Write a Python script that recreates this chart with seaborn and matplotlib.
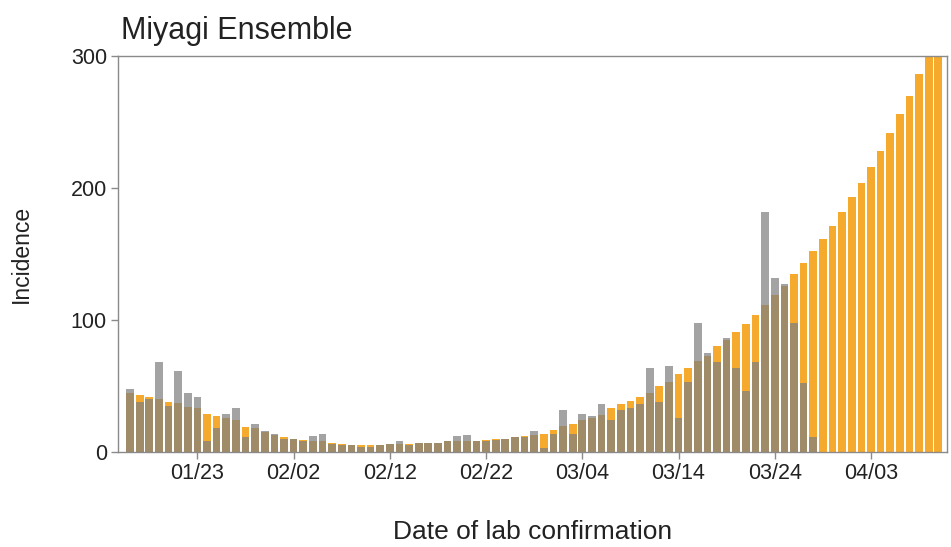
import numpy as np
import pandas as pd
import matplotlib
matplotlib.use("Agg")
import matplotlib.pyplot as plt
import seaborn as sns

# ---- data ----
dates = pd.date_range("2021-01-16", "2021-04-10").strftime("%m/%d").tolist()

ensemble = [45, 43, 42, 40, 38, 37, 34, 33, 29, 27,
            26, 24, 19, 18, 15, 13, 11, 10, 9, 8,
            8, 7, 6, 5, 5, 5, 5, 6, 6, 6,
            7, 7, 7, 8, 8, 8, 8, 9, 10, 10,
            11, 12, 13, 14, 17, 20, 21, 24, 26, 28,
            33, 36, 39, 42, 45, 50, 53, 59, 64, 69,
            73, 80, 85, 91, 97, 104, 111, 119, 126, 135,
            143, 152, 161, 171, 182, 193, 204, 216, 228, 242,
            256, 270, 286, 302, 318]

observed = [48, 38, 40, 68, 35, 61, 45, 42, 8, 18,
            29, 33, 11, 21, 16, 14, 10, 10, 8, 12,
            14, 6, 5, 5, 4, 4, 5, 6, 8, 5,
            7, 7, 7, 8, 12, 13, 8, 8, 9, 10,
            11, 11, 16, 3, 14, 32, 14, 29, 27, 36,
            24, 32, 33, 36, 64, 38, 65, 26, 53, 98,
            75, 68, 86, 64, 46, 68, 182, 132, 127, 98,
            52, 11]

tick_labels = ["01/23", "02/02", "02/12", "02/22", "03/04", "03/14", "03/24", "04/03"]
y_ticks = [0, 100, 200, 300]

# ---- build frames ----
df_ens = pd.DataFrame({"date": dates, "value": ensemble})
df_obs = pd.DataFrame({"date": dates[:len(observed)], "value": observed})

sns.set_style("white")
plt.rcParams["font.family"] = ["Liberation Sans", "DejaVu Sans"]

fig = plt.figure(figsize=(9.51, 5.47), dpi=100)
ax = fig.add_axes([118 / 951, 1 - 452 / 547, (947 - 118) / 951, (452 - 56) / 547])

sns.barplot(data=df_ens, x="date", y="value", order=dates, color="#F5AA2E",
            saturation=1, width=0.8, linewidth=0, ax=ax, errorbar=None)
sns.barplot(data=df_obs, x="date", y="value", order=dates, color="#808080",
            saturation=1, width=0.8, linewidth=0, alpha=0.72, ax=ax, errorbar=None)

ax.set_xlim(-1.25, 84.9)
ax.set_ylim(0, 300)
ax.set_yticks(y_ticks)
ax.set_yticklabels([str(v) for v in y_ticks])
tick_pos = [dates.index(t) for t in tick_labels]
ax.set_xticks(tick_pos)
ax.set_xticklabels(tick_labels)

for s in ax.spines.values():
    s.set_visible(True)
    s.set_color("#8a8a8a")
    s.set_linewidth(1.0)

ax.tick_params(axis="both", which="major", length=5, width=1, color="#8a8a8a",
               labelsize=15.5, labelcolor="#222222", direction="out", pad=3)
ax.tick_params(axis="x", bottom=True)
ax.tick_params(axis="y", left=True)

ax.set_xlabel("Date of lab confirmation", fontsize=19, color="#222222", labelpad=26)
ax.set_ylabel("Incidence", fontsize=16.5, color="#222222", labelpad=27)
ax.set_title("Miyagi Ensemble", loc="left", fontsize=22, color="#222222", pad=12, x=0.004)

fig.savefig("out.png", dpi=100)
